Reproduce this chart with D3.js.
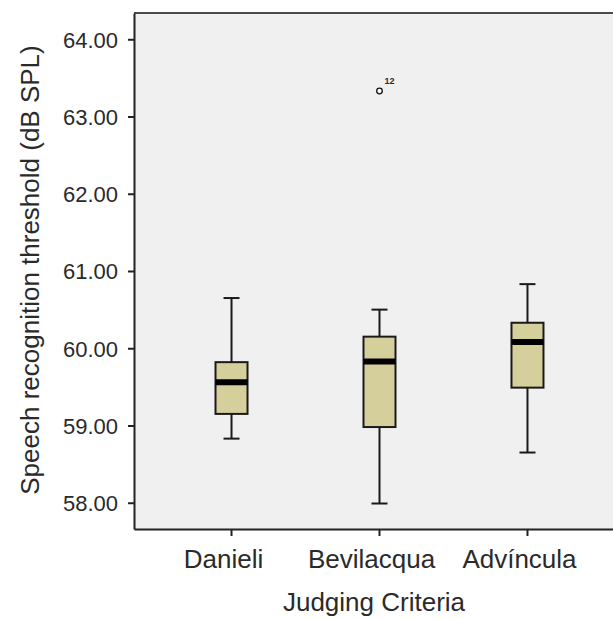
<!DOCTYPE html>
<html>
<head>
<meta charset="utf-8">
<script src="https://cdn.jsdelivr.net/npm/d3@7"></script>
<style>
  body { margin: 0; background: #fff; }
  text { font-family: Arial, "Liberation Sans", sans-serif; fill: #2a2a2a; }
</style>
</head>
<body>
<div id="chart"></div>
<script>
// data
let categories = ['Danieli', 'Bevilacqua', 'Advíncula'];
let whiskerLow = [58.83, 57.99, 58.65];
let q1 = [59.15, 58.98, 59.49];
let median = [59.56, 59.83, 60.08];
let q3 = [59.82, 60.15, 60.33];
let whiskerHigh = [60.65, 60.50, 60.83];
let outliers = [{ cat: 'Bevilacqua', value: 63.33, label: '12' }];
let yTicks = [58, 59, 60, 61, 62, 63, 64];

let config = { svg: {}, plot: {} };
config.svg.width = 613;
config.svg.height = 619;
config.plot.left = 134;
config.plot.right = 625; // plot runs past the right edge of the picture
config.plot.top = 13;
config.plot.bottom = 529;

let svg = d3.select('#chart').append('svg')
  .attr('width', config.svg.width)
  .attr('height', config.svg.height);

let x = d3.scaleBand()
  .domain(categories)
  .range([config.plot.left, config.plot.right])
  .paddingInner(0)
  .paddingOuter(0.159);

let y = d3.scaleLinear()
  .domain([57.66, 64.34])
  .range([config.plot.bottom, config.plot.top]);

// plot background
svg.append('rect')
  .attr('x', config.plot.left)
  .attr('y', config.plot.top)
  .attr('width', config.plot.right - config.plot.left)
  .attr('height', config.plot.bottom - config.plot.top)
  .attr('fill', '#f0f0f0');

svg.append('line')
  .attr('x1', config.plot.left).attr('x2', config.plot.right)
  .attr('y1', config.plot.top).attr('y2', config.plot.top)
  .attr('stroke', '#4a4a4a').attr('stroke-width', 2);

// axes
let yAxis = svg.append('g')
  .attr('transform', 'translate(' + config.plot.left + ',0)')
  .call(d3.axisLeft(y).tickValues(yTicks).tickFormat(d3.format('.2f'))
    .tickSize(6).tickSizeOuter(0).tickPadding(10));
yAxis.selectAll('path, line').attr('stroke', '#222').attr('stroke-width', 2);
yAxis.selectAll('text').style('font-size', '22px').attr('dy', '0.36em');

let xAxis = svg.append('g')
  .attr('transform', 'translate(0,' + config.plot.bottom + ')')
  .call(d3.axisBottom(x).tickSize(7).tickSizeOuter(0));
xAxis.selectAll('path, line').attr('stroke', '#222').attr('stroke-width', 2);
xAxis.selectAll('text').style('font-size', '26px').attr('y', 39).attr('dy', 0).attr('dx', -8);

// axis titles
svg.append('text')
  .attr('x', 374).attr('y', 611)
  .attr('text-anchor', 'middle')
  .style('font-size', '26px')
  .text('Judging Criteria');

svg.append('text')
  .attr('transform', 'translate(39,270) rotate(-90)')
  .attr('text-anchor', 'middle')
  .style('font-size', '26px')
  .text('Speech recognition threshold (dB SPL)');

// boxes
let boxW = 32, capW = 16;
let boxes = categories.map(function(c, i) {
  return { cat: c, lo: whiskerLow[i], q1: q1[i], med: median[i], q3: q3[i], hi: whiskerHigh[i] };
});
let cx = function(c) { return x(c) + x.bandwidth() / 2; };

let g = svg.selectAll('.box')
  .data(boxes)
  .enter().append('g')
  .attr('class', 'box');

g.append('line')
  .attr('x1', d => cx(d.cat)).attr('x2', d => cx(d.cat))
  .attr('y1', d => y(d.lo)).attr('y2', d => y(d.hi))
  .attr('stroke', '#1a1a1a').attr('stroke-width', 2);

g.selectAll('.cap')
  .data(d => [{ cat: d.cat, v: d.lo }, { cat: d.cat, v: d.hi }])
  .enter().append('line')
  .attr('x1', d => cx(d.cat) - capW / 2).attr('x2', d => cx(d.cat) + capW / 2)
  .attr('y1', d => y(d.v)).attr('y2', d => y(d.v))
  .attr('stroke', '#1a1a1a').attr('stroke-width', 2);

g.append('rect')
  .attr('x', d => cx(d.cat) - boxW / 2)
  .attr('width', boxW)
  .attr('y', d => y(d.q3))
  .attr('height', d => y(d.q1) - y(d.q3))
  .attr('fill', '#d4cf9b')
  .attr('stroke', '#1a1a1a').attr('stroke-width', 2);

g.append('line')
  .attr('x1', d => cx(d.cat) - boxW / 2).attr('x2', d => cx(d.cat) + boxW / 2)
  .attr('y1', d => y(d.med)).attr('y2', d => y(d.med))
  .attr('stroke', '#000').attr('stroke-width', 6);

// outliers
let og = svg.selectAll('.outlier')
  .data(outliers)
  .enter().append('g');
og.append('circle')
  .attr('cx', d => cx(d.cat)).attr('cy', d => y(d.value))
  .attr('r', 2.8)
  .attr('fill', '#fff').attr('stroke', '#111').attr('stroke-width', 1.3);
og.append('text')
  .attr('x', d => cx(d.cat) + 5).attr('y', d => y(d.value) - 7)
  .style('font-size', '9px').style('font-weight', 'bold')
  .text(d => d.label);
</script>
</body>
</html>
